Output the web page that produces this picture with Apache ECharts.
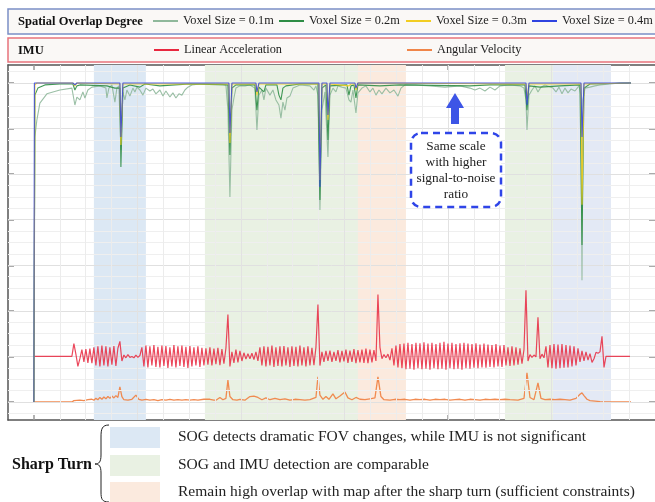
<!DOCTYPE html>
<html>
<head>
<meta charset="utf-8">
<script src="https://cdn.jsdelivr.net/npm/echarts@6/dist/echarts.min.js"></script>
<style>
  html, body { margin: 0; padding: 0; background: #fff; }
  #chart { width: 655px; height: 502px; }
</style>
</head>
<body>
<div id="chart"></div>
<script>
// x = sample position (0 = start of recording), y = overlap ratio 0..1
const sog01 = [[0,0],[1,.831],[3,.884],[6,.937],[13,.966],[26,.978],[38,.984],[39,.984],[41,.931],[43,.956],[46,.947],[49,.972],[51,.953],[54,.978],[58,.987],[66,.991],[72,.984],[73,.953],[75,.984],[78,.994],[81,.940],[83,.984],[85,.991],[87,.790],[89,.972],[91,.947],[93,.978],[96,.959],[99,.984],[101,.972],[103,.987],[106,.978],[109,.962],[112,.984],[116,.975],[119,.981],[122,.966],[126,.978],[129,.959],[132,.975],[136,.956],[139,.969],[142,.953],[145,.966],[148,.962],[151,.978],[154,.987],[158,.994],[166,.997],[176,.997],[186,.997],[192,.994],[194,.915],[196,.643],[198,.915],[200,.953],[202,.984],[206,.991],[211,.991],[216,.994],[221,.984],[223,.853],[225,.962],[228,.978],[230,.947],[232,.984],[236,.962],[239,.978],[242,.947],[245,.931],[247,.890],[249,.940],[251,.915],[253,.953],[256,.959],[259,.984],[266,.994],[276,.991],[280,.978],[282,.991],[284,.962],[286,.602],[288,.915],[291,.972],[294,.768],[296,.962],[299,.984],[302,.972],[304,.991],[308,.987],[312,.984],[315,.947],[317,.940],[319,.978],[322,.906],[324,.969],[328,.984],[332,.991],[336,.972],[339,.984],[342,.962],[345,.978],[348,.966],[352,.984],[356,.969],[360,.978],[364,.959],[367,.984],[371,.994],[381,.994],[396,.991],[411,.987],[426,.991],[436,.984],[441,.978],[446,.984],[451,.975],[456,.987],[461,.978],[466,.991],[476,.994],[486,.991],[490,.984],[492,.947],[493,.853],[495,.962],[498,.978],[501,.991],[504,.972],[507,.987],[511,.994],[519,.984],[522,.972],[525,.987],[528,.966],[531,.984],[534,.969],[537,.981],[541,.975],[545,.991],[547,.962],[548,.382],[549,.947],[551,.984],[556,.987],[561,.991],[566,.994],[576,.997],[586,1],[597,1]];
const sog02 = [[0,0],[1,.962],[4,.984],[11,.994],[26,.997],[39,.997],[41,.978],[43,.991],[46,.994],[73,.991],[81,.984],[86,.984],[87,.737],[89,.984],[96,.994],[106,.987],[111,.997],[126,.991],[141,.994],[156,.997],[194,.994],[196,.774],[198,.984],[202,.994],[221,.994],[223,.915],[225,.987],[230,.972],[232,.994],[243,.994],[245,.962],[247,.947],[249,.984],[252,.991],[266,.997],[284,.997],[286,.633],[288,.984],[292,.994],[294,.821],[296,.991],[313,.994],[315,.962],[317,.991],[320,.994],[322,.953],[324,.994],[346,.991],[366,.994],[436,.991],[456,.994],[491,.994],[493,.915],[495,.991],[506,.987],[526,.991],[546,.994],[548,.492],[550,.984],[556,.997],[597,1]];
const sog03 = [[0,0],[1,.994],[3,1],[39,1],[41,.991],[43,1],[86,.997],[87,.806],[89,.997],[110,.997],[150,.997],[195,.997],[196,.812],[198,.997],[222,.997],[223,.962],[225,.997],[285,.997],[286,.696],[288,.997],[293,.997],[294,.884],[296,.997],[315,.991],[317,.997],[321,.997],[322,.978],[324,1],[492,.997],[493,.947],[495,.997],[547,.997],[548,.618],[550,.997],[597,1]];
const sog04 = [[0,0],[0.5,1],[39,1],[41,.994],[43,1],[86,1],[87,.831],[89,1],[195,1],[196,.843],[198,1],[222,1],[223,.972],[225,1],[285,1],[286,.674],[288,1],[293,1],[294,.900],[296,1],[321,1],[322,.984],[324,1],[492,1],[493,.931],[495,1],[547,1],[548,.831],[550,1],[597,1]];

// IMU, offset units: linear acceleration sits on level 1, angular velocity on level 0
const accStep = 2;
const linearAcc = [
  1,1,1,1,1,1,1,1,1,1,1,1,1,1,1,1,1,1,1,1,
  1.28,1.05,0.78,0.95,
  1.15,0.88,1.16,0.86,1.17,0.85,
  1.2,0.8,1.22,0.78,1.24,0.8,1.22,0.78,1.2,0.82,1.23,0.79,1.18,
  1.33,0.9,1.03,0.97,1.04,0.98,1.0,0.97,1.03,0.98,1.02,
  1.2,0.78,1.24,0.76,1.22,0.8,1.25,0.77,1.21,0.76,1.24,0.79,1.23,0.75,1.2,0.78,1.25,0.76,1.22,0.79,1.24,0.77,1.21,0.75,1.23,0.78,1.2,0.8,1.22,0.77,1.19,0.8,
  1.18,0.82,1.2,0.8,1.17,0.83,1.19,0.81,1.16,0.84,1.18,
  1.92,0.78,1.1,
  0.86,1.15,0.87,1.12,0.9,1.08,0.94,1.06,0.95,1.07,0.93,1.1,0.9,
  1.2,0.8,1.22,0.78,1.21,0.8,1.24,0.77,1.2,0.79,1.22,0.78,1.23,0.8,1.2,0.77,1.22,0.79,1.21,0.78,1.24,0.8,1.2,0.78,1.22,0.8,1.19,0.81,1.2,
  2.14,0.8,1.1,
  0.88,1.12,0.9,1.13,0.88,1.1,0.9,1.14,0.87,1.12,0.89,1.15,0.86,1.13,0.88,1.16,0.85,1.14,0.87,1.15,0.86,1.17,0.85,1.15,0.87,1.14,0.9,
  2.36,1.2,0.95,1.04,0.97,1.05,0.92,
  1.18,0.8,1.24,0.76,1.27,0.74,1.28,0.72,1.3,0.73,
  1.27,0.71,1.3,0.74,1.29,0.72,1.31,0.73,1.28,0.71,
  1.3,0.74,1.27,0.72,1.3,0.73,1.32,0.71,1.28,0.74,
  1.3,0.72,1.27,0.73,1.29,0.71,1.3,0.74,1.28,0.73,
  1.27,0.75,1.29,0.74,1.26,0.76,1.28,0.75,1.26,0.77,
  1.25,0.76,1.27,0.78,1.24,0.77,1.25,
  0.8,1.2,0.79,1.22,0.8,1.2,0.82,1.18,0.84,1.15,
  2.45,0.9,1.04,0.98,1.03,0.99,1.86,0.95,1.05,0.97,
  1.22,0.76,1.25,0.74,1.27,0.73,1.26,0.74,1.27,0.75,1.25,0.76,1.24,0.78,1.22,0.8,1.18,
  0.88,1.12,0.9,1.1,0.92,1.06,
  0.87,0.95,1.09,1.07,1.1,1.44,0.76,1.0,
  1,1,1,1,1,1,1,1,1,1,1,1
];
const angularVel = [[0,0],[38,0],[40,.03],[46,.04],[50,.03],[54,.05],[58,.06],[60,.04],[62,.08],[64,.05],[66,.1],[68,.06],[70,.11],[72,.07],[74,.12],[76,.08],[78,.13],[80,.09],[82,.14],[84,.1],[86,.33],[88,.12],[90,.05],[94,.04],[98,.06],[102,.15],[105,.06],[108,.04],[112,.06],[116,.04],[120,.05],[124,.03],[128,.05],[132,.04],[136,.06],[140,.04],[144,.05],[148,.04],[152,.05],[156,.04],[160,.05],[164,.04],[170,.06],[176,.06],[180,.04],[182,.04],[186,.1],[189,.05],[192,.08],[194,.48],[196,.12],[199,.05],[203,.04],[206,.06],[211,.04],[216,.12],[220,.13],[224,.1],[228,.05],[232,.09],[236,.05],[241,.08],[246,.05],[251,.07],[256,.04],[261,.06],[266,.05],[271,.04],[276,.05],[282,.1],[284,.55],[286,.15],[289,.06],[292,.12],[295,.06],[299,.18],[302,.07],[306,.13],[311,.22],[314,.09],[318,.05],[322,.1],[326,.06],[331,.05],[336,.07],[341,.09],[344,.55],[347,.12],[350,.05],[356,.04],[361,.06],[366,.05],[371,.06],[376,.04],[381,.06],[386,.05],[391,.06],[396,.04],[401,.06],[406,.05],[411,.06],[416,.04],[421,.05],[426,.06],[431,.04],[436,.06],[441,.05],[446,.04],[451,.06],[456,.05],[461,.06],[466,.05],[471,.06],[476,.05],[484,.04],[490,.08],[493,.64],[496,.1],[500,.05],[504,.42],[507,.08],[511,.05],[516,.06],[521,.05],[526,.06],[531,.05],[536,.04],[542,.08],[546,.17],[548,.2],[550,.14],[553,.06],[556,.03],[561,.02],[566,.01],[576,0],[597,0]];

// sharp-turn bands [start, end, kind]
const bands = [[60,112,'fov'],[171,324,'both'],[324,372,'keep'],[471,519,'both'],[519,577,'fov2']];
const bandColors = { fov: '#dce8f4', fov2: '#e3e9f5', both: '#e9f1e3', keep: '#fbeade' };

const sogNames = ['Voxel Size = 0.1m','Voxel Size = 0.2m','Voxel Size = 0.3m','Voxel Size = 0.4m'];
const sogColors = ['#8fb89b','#2e8d45','#f2cd22','#2f43e0'];
const imuNames = ['Linear Acceleration','Angular Velocity'];
const imuColors = ['#e8283f','#f08548'];
const noteLines = ['SOG detects dramatic FOV changes, while IMU is not significant','SOG and IMU detection are comparable','Remain high overlap with map after the sharp turn (sufficient constraints)'];

const MAJOR = 103.5, MINOR = MAJOR / 4;
const SERIF = '"Liberation Serif", "DejaVu Serif", serif';

const chart = echarts.init(document.getElementById('chart'), null, { renderer: 'canvas' });

const hLines = [];
for (let k = -1; k <= 29; k++) {
  hLines.push({ yAxis: k * 0.25, lineStyle: { color: k % 4 === 0 ? '#e0e0e0' : '#efefef' } });
}
for (let k = 1; k < 24; k++) {
  hLines.push({ xAxis: k * MINOR, lineStyle: { color: k % 4 === 0 ? '#e2e2e2' : '#ececec' } });
}
const majorX = [0, 1, 2, 3, 4, 5].map(k => k * MAJOR);

const legendBase = {
  orient: 'horizontal', itemWidth: 25, itemHeight: 2, icon: 'rect', padding: 0,
  selectedMode: false, textStyle: { fontFamily: SERIF, fontSize: 12.3, color: '#222' }
};
const legendPos = [[153, 15], [279, 15], [406, 15], [532, 15], [154, 44], [407, 44]];
const allNames = sogNames.concat(imuNames);

const series = [
  {
    type: 'line', data: [], xAxisIndex: 0, yAxisIndex: 0, z: 1, silent: true,
    markArea: {
      silent: true,
      data: bands.map(b => [{ xAxis: b[0], itemStyle: { color: bandColors[b[2]] } }, { xAxis: b[1] }])
    }
  },
  {
    type: 'line', data: [], xAxisIndex: 0, yAxisIndex: 0, z: 2, silent: true,
    markLine: {
      silent: true, symbol: ['none', 'none'], label: { show: false }, animation: false,
      lineStyle: { type: 'solid', width: 1 },
      data: hLines
    }
  },
  {
    name: imuNames[1], type: 'line', yAxisIndex: 0, data: angularVel, color: imuColors[1],
    showSymbol: false, lineStyle: { width: 1.3, color: imuColors[1], opacity: 0.95 }, z: 4
  },
  {
    name: imuNames[0], type: 'line', yAxisIndex: 0, color: imuColors[0],
    data: linearAcc.map((v, i) => [i * accStep, v]),
    showSymbol: false, lineStyle: { width: 1.2, color: imuColors[0], opacity: 0.85 }, z: 5
  }
];
[sog01, sog02, sog03, sog04].forEach((d, i) => {
  series.push({
    name: sogNames[i], type: 'line', yAxisIndex: 2, data: d, color: sogColors[i],
    showSymbol: false, lineStyle: { width: 1.1, color: sogColors[i], opacity: i === 3 ? 0.85 : 0.9 }, z: 6 + i
  });
});

// curly brace of the key, built from curve pieces
const braceStyle = { fill: 'none', stroke: '#222', lineWidth: 1 };
const brace = [
  { type: 'bezierCurve', shape: { x1: 109, y1: 425, cpx1: 102, cpy1: 425, cpx2: 101, cpy2: 429, x2: 101, y2: 437 }, style: braceStyle },
  { type: 'line', shape: { x1: 101, y1: 437, x2: 101, y2: 455 }, style: braceStyle },
  { type: 'bezierCurve', shape: { x1: 101, y1: 455, cpx1: 101, cpy1: 462, cpx2: 99, cpy2: 464, x2: 95, y2: 464 }, style: braceStyle },
  { type: 'bezierCurve', shape: { x1: 95, y1: 464, cpx1: 99, cpy1: 464, cpx2: 101, cpy2: 466, x2: 101, y2: 473 }, style: braceStyle },
  { type: 'line', shape: { x1: 101, y1: 473, x2: 101, y2: 492 }, style: braceStyle },
  { type: 'bezierCurve', shape: { x1: 101, y1: 492, cpx1: 101, cpy1: 499, cpx2: 102, cpy2: 502, x2: 109, y2: 502 }, style: braceStyle }
];

const option = {
  animation: false,
  backgroundColor: '#ffffff',
  grid: { left: 8, right: 0, top: 65, bottom: 82, containLabel: false },
  legend: allNames.map((n, i) => Object.assign({}, legendBase, { data: [n], left: legendPos[i][0], top: legendPos[i][1] })),
  xAxis: [
    {
      type: 'value', position: 'bottom', min: -MINOR, max: 621,
      axisLine: { onZero: false, lineStyle: { color: '#555', width: 1.5 } },
      axisTick: { show: true, inside: true, length: 5, customValues: majorX, lineStyle: { color: '#999', width: 1.5 } },
      axisLabel: { show: false }, splitLine: { show: false }
    },
    {
      type: 'value', position: 'top', min: -MINOR, max: 621,
      axisLine: { onZero: false, lineStyle: { color: '#555', width: 1.5 } },
      axisTick: { show: true, inside: true, length: 5, customValues: majorX, lineStyle: { color: '#999', width: 1.5 } },
      axisLabel: { show: false }, splitLine: { show: false }
    }
  ],
  yAxis: [
    {
      type: 'value', position: 'left', min: -0.395, max: 7.395,
      axisLine: { show: true, onZero: false, lineStyle: { color: '#555', width: 1.5 } },
      axisTick: { show: true, inside: true, length: 6, customValues: [0, 1, 2, 3, 4, 5, 6, 7], lineStyle: { color: '#aaa', width: 2 } },
      axisLabel: { show: false }, splitLine: { show: false }
    },
    {
      type: 'value', position: 'right', min: -0.395, max: 7.395,
      axisLine: { show: false, onZero: false },
      axisTick: { show: true, inside: true, length: 6, customValues: [0, 1, 2, 3, 4, 5, 6, 7], lineStyle: { color: '#aaa', width: 2 } },
      axisLabel: { show: false }, splitLine: { show: false }
    },
    {
      type: 'value', show: false, min: -0.395 / 7, max: 1 + 0.395 / 7
    }
  ],
  series: series,
  graphic: [
    { type: 'rect', z: -1, shape: { x: 8, y: 9, width: 660, height: 25 }, style: { fill: '#faf8f6', stroke: '#7b8fc6', lineWidth: 1.5 } },
    { type: 'rect', z: -1, shape: { x: 8, y: 38, width: 660, height: 24 }, style: { fill: '#faf8f6', stroke: '#e8737c', lineWidth: 1.5 } },
    { type: 'text', z: 10, style: { x: 18, y: 22, text: 'Spatial Overlap Degree', font: 'bold 12.5px ' + SERIF, fill: '#111', verticalAlign: 'middle' } },
    { type: 'text', z: 10, style: { x: 18, y: 51, text: 'IMU', font: 'bold 12.5px ' + SERIF, fill: '#111', verticalAlign: 'middle' } },
    // annotation
    { type: 'polygon', z: 20, shape: { points: [[451, 124], [451, 108], [446, 108], [455, 93], [464, 108], [459, 108], [459, 124]] }, style: { fill: '#3d55e6' } },
    { type: 'rect', z: 20, shape: { x: 411, y: 133, width: 90, height: 74, r: 10 }, style: { fill: '#ffffff', stroke: '#2f45e8', lineWidth: 2.5, lineDash: [7, 5] } },
    { type: 'text', z: 21, style: { x: 456, y: 171, text: 'Same scale\nwith higher\nsignal-to-noise\nratio', font: '13.3px ' + SERIF, fill: '#222', align: 'center', verticalAlign: 'middle', lineHeight: 16 } },
    // sharp-turn key
    { type: 'text', style: { x: 12, y: 465, text: 'Sharp Turn', font: 'bold 16px ' + SERIF, fill: '#111', verticalAlign: 'middle' } }
  ].concat(brace, [
    { type: 'rect', shape: { x: 110, y: 427, width: 50, height: 21 }, style: { fill: bandColors.fov } },
    { type: 'rect', shape: { x: 110, y: 455, width: 50, height: 21 }, style: { fill: bandColors.both } },
    { type: 'rect', shape: { x: 110, y: 482, width: 50, height: 20 }, style: { fill: bandColors.keep } },
    { type: 'text', style: { x: 178, y: 437, text: noteLines[0], font: '15.5px ' + SERIF, fill: '#222', verticalAlign: 'middle' } },
    { type: 'text', style: { x: 178, y: 465, text: noteLines[1], font: '15.5px ' + SERIF, fill: '#222', verticalAlign: 'middle' } },
    { type: 'text', style: { x: 178, y: 492, text: noteLines[2], font: '15.5px ' + SERIF, fill: '#222', verticalAlign: 'middle' } }
  ])
};

chart.setOption(option);
</script>
</body>
</html>
